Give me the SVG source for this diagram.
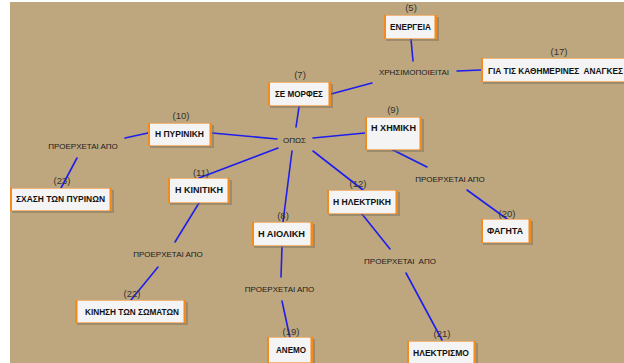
<svg xmlns="http://www.w3.org/2000/svg" width="624" height="363" viewBox="0 0 624 363">
<style>
.bg{fill:#BEA77E}
.sh{fill:#7d705a;opacity:.5}
.box{fill:#F4F4F4;stroke:#F2B57A;stroke-width:1}
.bar{fill:#F28A1E}
.lbl{font-family:"Liberation Sans",Arial,sans-serif;font-size:8.3px;font-weight:bold;fill:#111;text-anchor:middle}
.num{font-family:"Liberation Sans",Arial,sans-serif;font-size:9.5px;fill:#333;text-anchor:middle}
.lnk{font-family:"Liberation Sans",Arial,sans-serif;font-size:8px;fill:#1a1a1a;text-anchor:middle}
#connectors line{stroke:#1E1EEE;stroke-width:1.6;stroke-linecap:round}
</style>
<rect x="0" y="0" width="624" height="363" fill="#FFFFFF"/>
<rect class="bg" x="10" y="2" width="614" height="361"/>

<g id="connectors">
<line x1="411" y1="39" x2="413" y2="61"/>
<line x1="457" y1="71" x2="481" y2="70"/>
<line x1="372" y1="83" x2="331" y2="94"/>
<line x1="299" y1="107" x2="296" y2="127"/>
<line x1="313" y1="138" x2="365" y2="133"/>
<line x1="212" y1="133" x2="277" y2="139"/>
<line x1="148" y1="133" x2="125" y2="138"/>
<line x1="77" y1="158" x2="61" y2="188"/>
<line x1="278" y1="148" x2="199" y2="178"/>
<line x1="292" y1="151" x2="283" y2="222"/>
<line x1="313" y1="151" x2="363" y2="190"/>
<line x1="199" y1="203" x2="175" y2="242"/>
<line x1="158" y1="267" x2="131" y2="300"/>
<line x1="362" y1="214" x2="390" y2="249"/>
<line x1="406" y1="273" x2="442" y2="340"/>
<line x1="282" y1="247" x2="281" y2="277"/>
<line x1="282" y1="301" x2="290" y2="338"/>
<line x1="393" y1="150" x2="427" y2="167"/>
<line x1="467" y1="190" x2="507" y2="219"/>
</g>

<g id="link-labels">
<text class="lnk" x="414" y="75">ΧΡΗΣΙΜΟΠΟΙΕΙΤΑΙ</text>
<text class="lnk" x="294.5" y="143">ΟΠΩΣ</text>
<text class="lnk" x="83" y="149">ΠΡΟΕΡΧΕΤΑΙ ΑΠΟ</text>
<text class="lnk" x="450" y="182">ΠΡΟΕΡΧΕΤΑΙ ΑΠΟ</text>
<text class="lnk" x="168" y="257">ΠΡΟΕΡΧΕΤΑΙ ΑΠΟ</text>
<text class="lnk" x="400" y="264" xml:space="preserve">ΠΡΟΕΡΧΕΤΑΙ  ΑΠΟ</text>
<text class="lnk" x="279.5" y="292">ΠΡΟΕΡΧΕΤΑΙ ΑΠΟ</text>
</g>

<g id="n5">
<rect class="sh" x="386" y="17" width="53" height="24"/>
<rect class="box" x="384.5" y="15.5" width="52" height="23"/>
<rect class="bar" x="384" y="15" width="2" height="24"/>
<rect class="bar" x="434.5" y="15" width="2.5" height="24"/>
<text class="num" x="411" y="11">(5)</text>
<text class="lbl" x="410.5" y="30" textLength="41" lengthAdjust="spacingAndGlyphs">ΕΝΕΡΓΕΙΑ</text>
</g>

<g id="n17">
<rect class="sh" x="483" y="60" width="150" height="24"/>
<rect class="box" x="481.5" y="58.5" width="150" height="23"/>
<rect class="bar" x="481" y="58" width="2" height="24"/>
<text class="num" x="559" y="55">(17)</text>
<text class="lbl" x="488" y="74" style="text-anchor:start" xml:space="preserve">ΓΙΑ ΤΙΣ ΚΑΘΗΜΕΡΙΝΕΣ  ΑΝΑΓΚΕΣ</text>
</g>

<g id="n7">
<rect class="sh" x="270" y="84" width="63" height="24"/>
<rect class="box" x="268.5" y="82.5" width="62" height="23"/>
<rect class="bar" x="268" y="82" width="2" height="24"/>
<rect class="bar" x="328.5" y="82" width="2.5" height="24"/>
<text class="num" x="300" y="78">(7)</text>
<text class="lbl" x="299" y="97" textLength="48" lengthAdjust="spacingAndGlyphs">ΣΕ ΜΟΡΦΕΣ</text>
</g>

<g id="n9">
<rect class="sh" x="367" y="119" width="57" height="33"/>
<rect class="box" x="365.5" y="117.5" width="56" height="32"/>
<rect class="bar" x="365" y="117" width="2" height="33"/>
<rect class="bar" x="419.5" y="117" width="2.5" height="33"/>
<text class="num" x="393" y="113">(9)</text>
<text class="lbl" x="393.5" y="131" textLength="45" lengthAdjust="spacingAndGlyphs">Η ΧΗΜΙΚΗ</text>
</g>

<g id="n10">
<rect class="sh" x="150" y="125" width="64" height="23"/>
<rect class="box" x="148.5" y="123.5" width="63" height="22"/>
<rect class="bar" x="148" y="123" width="2" height="23"/>
<rect class="bar" x="209.5" y="123" width="2.5" height="23"/>
<text class="num" x="181" y="119">(10)</text>
<text class="lbl" x="179.5" y="137" textLength="49" lengthAdjust="spacingAndGlyphs">Η ΠΥΡΙΝΙΚΗ</text>
</g>

<g id="n23">
<rect class="sh" x="12" y="190" width="102" height="23"/>
<rect class="box" x="10.5" y="188.5" width="101" height="22"/>
<rect class="bar" x="10" y="188" width="2" height="23"/>
<rect class="bar" x="109.5" y="188" width="2.5" height="23"/>
<text class="num" x="62" y="184">(23)</text>
<text class="lbl" x="60.5" y="202" textLength="89" lengthAdjust="spacingAndGlyphs">ΣΧΑΣΗ ΤΩΝ ΠΥΡΙΝΩΝ</text>
</g>

<g id="n11">
<rect class="sh" x="170" y="180" width="62" height="25"/>
<rect class="box" x="168.5" y="178.5" width="61" height="24"/>
<rect class="bar" x="168" y="178" width="2" height="25"/>
<rect class="bar" x="227.5" y="178" width="2.5" height="25"/>
<text class="num" x="201" y="176">(11)</text>
<text class="lbl" x="199" y="193" textLength="48" lengthAdjust="spacingAndGlyphs">Η ΚΙΝΙΤΙΚΗ</text>
</g>

<g id="n12">
<rect class="sh" x="329" y="192" width="71" height="24"/>
<rect class="box" x="327.5" y="190.5" width="70" height="23"/>
<rect class="bar" x="327" y="190" width="2" height="24"/>
<rect class="bar" x="395.5" y="190" width="2.5" height="24"/>
<text class="num" x="358" y="187">(12)</text>
<text class="lbl" x="362" y="205" textLength="58" lengthAdjust="spacingAndGlyphs">Η ΗΛΕΚΤΡΙΚΗ</text>
</g>

<g id="n8">
<rect class="sh" x="254" y="224" width="61" height="24"/>
<rect class="box" x="252.5" y="222.5" width="60" height="23"/>
<rect class="bar" x="252" y="222" width="2" height="24"/>
<rect class="bar" x="310.5" y="222" width="2.5" height="24"/>
<text class="num" x="283" y="219">(8)</text>
<text class="lbl" x="281.5" y="237" textLength="47" lengthAdjust="spacingAndGlyphs">Η ΑΙΟΛΙΚΗ</text>
</g>

<g id="n20">
<rect class="sh" x="483" y="221" width="50" height="24"/>
<rect class="box" x="481.5" y="219.5" width="49" height="23"/>
<rect class="bar" x="481" y="219" width="2" height="24"/>
<rect class="bar" x="528.5" y="219" width="2.5" height="24"/>
<text class="num" x="507" y="217">(20)</text>
<text class="lbl" x="505" y="234" textLength="36" lengthAdjust="spacingAndGlyphs">ΦΑΓΗΤΑ</text>
</g>

<g id="n22">
<rect class="sh" x="77" y="302" width="111" height="23"/>
<rect class="box" x="75.5" y="300.5" width="110" height="22"/>
<rect class="bar" x="75" y="300" width="2.5" height="23"/>
<rect class="bar" x="183.5" y="300" width="2.5" height="23"/>
<text class="num" x="132" y="297">(22)</text>
<text class="lbl" x="132" y="315" textLength="94" lengthAdjust="spacingAndGlyphs">ΚΙΝΗΣΗ ΤΩΝ ΣΩΜΑΤΩΝ</text>
</g>

<g id="n19">
<rect class="sh" x="269" y="339" width="46" height="26"/>
<rect class="box" x="267.5" y="337.5" width="45" height="25"/>
<rect class="bar" x="267" y="337" width="2" height="26"/>
<rect class="bar" x="310.5" y="337" width="2.5" height="26"/>
<text class="num" x="291" y="335">(19)</text>
<text class="lbl" x="291" y="353" textLength="30" lengthAdjust="spacingAndGlyphs">ΑΝΕΜΟ</text>
</g>

<g id="n21">
<rect class="sh" x="409" y="343" width="69" height="22"/>
<rect class="box" x="407.5" y="341.5" width="68" height="22"/>
<rect class="bar" x="407" y="341" width="2" height="22"/>
<rect class="bar" x="473.5" y="341" width="2.5" height="22"/>
<text class="num" x="442" y="337">(21)</text>
<text class="lbl" x="441" y="356" textLength="56" lengthAdjust="spacingAndGlyphs">ΗΛΕΚΤΡΙΣΜΟ</text>
</g>
</svg>
